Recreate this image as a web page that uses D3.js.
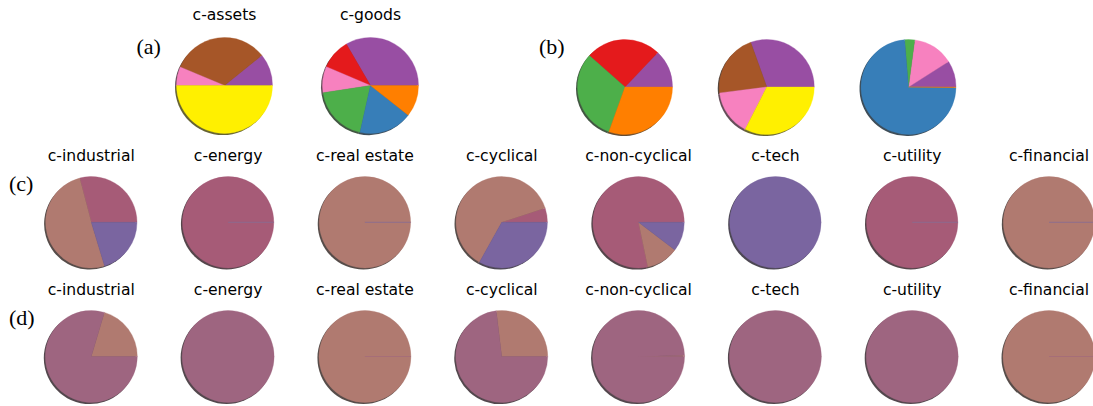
<!DOCTYPE html>
<html><head><meta charset="utf-8">
<script src="https://cdn.jsdelivr.net/npm/d3@7"></script>
<style>body{margin:0;background:#fff}svg{display:block}</style>
</head><body>
<script>
// ---- data ----
// panels (a)/(b): clusters, in drawing order
const abCategories = ["cluster 1","cluster 2","cluster 3","cluster 4","cluster 5","cluster 6","cluster 7","cluster 8"];
const abColors = ["#984ea3","#a65628","#e41a1c","#f781bf","#4daf4a","#377eb8","#ff7f00","#fff000"];
const aTitles = ["c-assets","c-goods"];
const aValues = [
  [0.108,0.329,0,0.063,0,0,0,0.500],
  [0.334,0,0.102,0.088,0.191,0.179,0.106,0]
];
const bTitles = ["","",""];
const bValues = [
  [0.129,0,0.256,0,0.310,0,0.305,0],
  [0.305,0.215,0,0.155,0,0,0,0.325],
  [0.090,0,0,0.139,0.034,0.735,0.002,0]
];
// panels (c)/(d): sectors
const sectorTitles = ["c-industrial","c-energy","c-real estate","c-cyclical","c-non-cyclical","c-tech","c-utility","c-financial"];
const cCategories = ["group 1","group 2","group 3"];
const cColors = ["#a65b77","#b07a70","#7a65a0"];
const cValues = [
  [0.291,0.506,0.203],
  [1,0,0],
  [0,1,0],
  [0.051,0.618,0.331],
  [0.7825,0.114,0.1035],
  [0,0,1],
  [1,0,0],
  [0,1,0]
];
const dCategories = ["group A","group B"];
const dColors = ["#b07a70","#9e6580"];
const dValues = [
  [0.204,0.796],
  [0,1],
  [1,0],
  [0.269,0.731],
  [0.004,0.996],
  [0,1],
  [0,1],
  [1,0]
];
const panelLabels = ["(a)","(b)","(c)","(d)"];

// ---- layout ----
const W = 1093, H = 406;
const svg = d3.select("body").append("svg").attr("width",W).attr("height",H);

const pie = d3.pie().sort(null).value(d=>d.v)
  .startAngle(Math.PI/2).endAngle(Math.PI/2 - 2*Math.PI);

function drawPie(cx, cy, r, values, cats, colors, title, titleY, showZero){
  const data = values.map((v,i)=>({v, c:colors[i], k:cats[i]}));
  const arcs = pie(data);
  const arc = d3.arc().innerRadius(0).outerRadius(r);
  const g = svg.append("g").attr("transform",`translate(${cx},${cy})`);
  // shadows first
  g.append("g").attr("transform","translate(-1.5,1.6)")
    .selectAll("path").data(arcs.filter(a=>a.data.v>0)).join("path")
    .attr("d",arc)
    .attr("fill",d=>{const c=d3.rgb(d.data.c);return d3.rgb(c.r*0.25,c.g*0.25,c.b*0.25);})
    .attr("fill-opacity",0.8);
  g.append("g").selectAll("path").data(arcs.filter(a=>showZero||a.data.v>0)).join("path")
    .attr("d",arc)
    .attr("fill",d=>d.data.c)
    .attr("stroke",d=>d.data.c)
    .attr("stroke-width",0.35)
    .attr("stroke-linejoin","round");
  if(title){
    svg.append("text").attr("x",cx).attr("y",titleY)
      .attr("text-anchor","middle")
      .attr("font-family","DejaVu Sans")
      .attr("font-size",15.6)
      .attr("fill","#000")
      .text(title);
  }
}

// row (a)
const aX = d3.scalePoint().domain(aTitles).range([224.5,370.5]);
aTitles.forEach((t,i)=>drawPie(aX(t),85.5,48,aValues[i],abCategories,abColors,t,19.5,false));
// row (b)
const bX = d3.scaleLinear().domain([0,2]).range([625,908.5]);
bValues.forEach((v,i)=>drawPie(bX(i),87,47.5,v,abCategories,abColors,bTitles[i],0,false));
// rows (c), (d)
const sX = d3.scalePoint().domain(sectorTitles).range([91.3,1049]);
sectorTitles.forEach((t,i)=>drawPie(sX(t),222.3,45.7,cValues[i],cCategories,cColors,t,161,true));
sectorTitles.forEach((t,i)=>drawPie(sX(t),356.5,46,dValues[i],dCategories,dColors,t,295,true));

// panel labels
const labelPos = [[136.5,53.5],[539,53.5],[9,190.5],[9,325]];
panelLabels.forEach((l,i)=>{
  svg.append("text").attr("x",labelPos[i][0]).attr("y",labelPos[i][1])
    .attr("font-family","Liberation Serif").attr("font-size",22)
    .attr("fill","#000").text(l);
});
</script>
</body></html>
